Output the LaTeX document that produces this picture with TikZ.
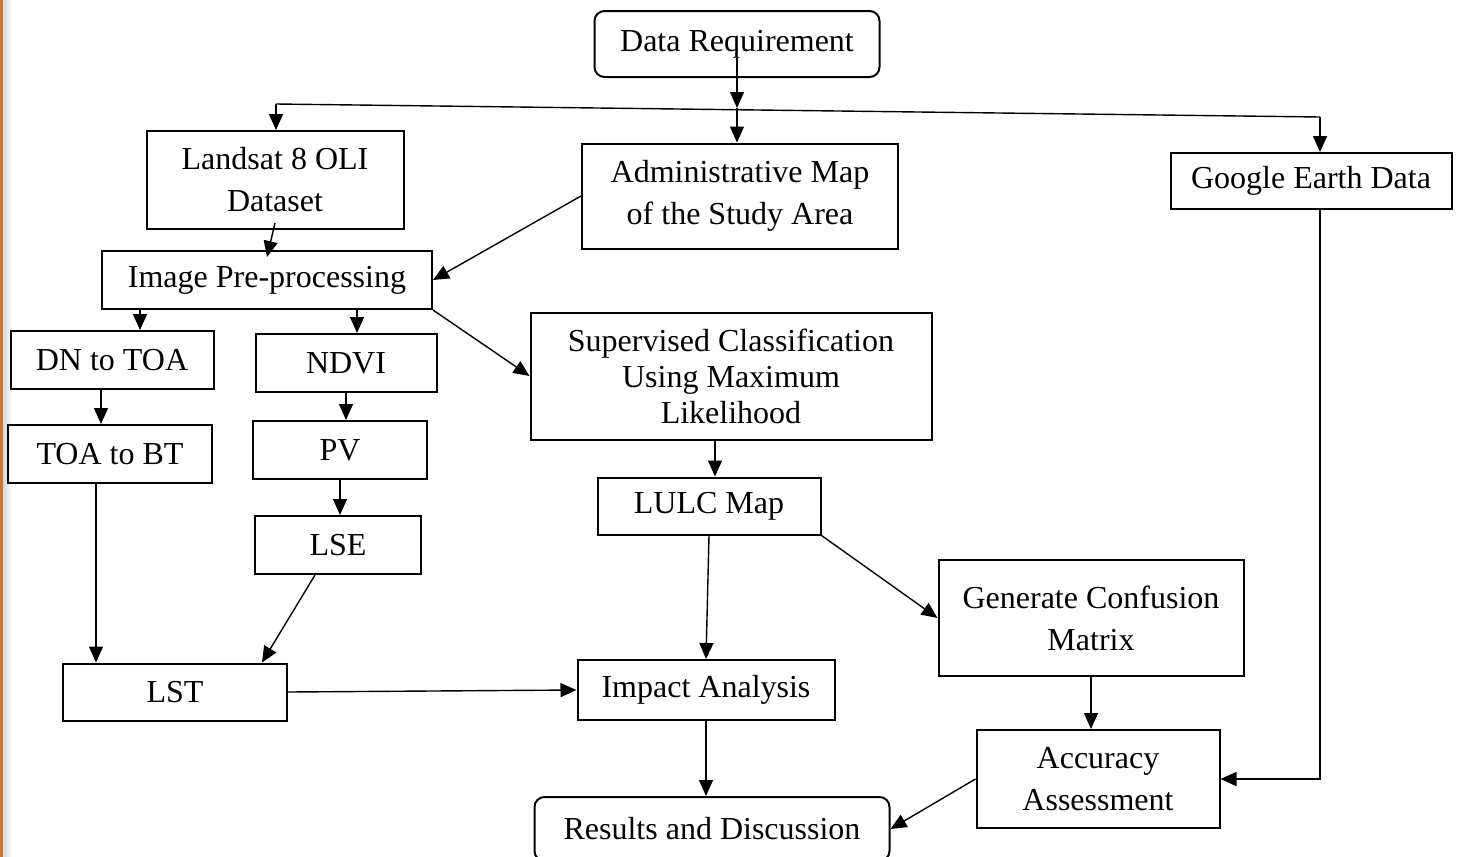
\documentclass[tikz,border=0pt]{standalone}
\usepackage{fontspec}
\setmainfont{Liberation Serif}
\usetikzlibrary{arrows.meta,calc,positioning}
\definecolor{pageedge}{RGB}{200,120,60}

\tikzset{
  box/.style={draw, line width=1pt, inner sep=0pt, align=center, font=\fontsize{16}{21}\selectfont},
  rbox/.style={box, rounded corners=5pt},
  flow/.style={-{Triangle[length=8pt,width=7pt]}, line width=0.7pt},
}

\begin{document}
\begin{tikzpicture}[x=0.5pt, y=-0.5pt]
  \useasboundingbox (0,0) rectangle (1457,857);
  \clip (0,0) rectangle (1457,857);
  \fill[white] (0,0) rectangle (1457,857);
  % page edge
  \fill[pageedge] (0,0) rectangle (3,857);
  \shade[left color=black!15, right color=white] (3,0) rectangle (12,857);

  % Data sources
  \node[rbox, minimum width=142.5pt, minimum height=33pt] (dreq) at (737,44) {Data Requirement};
  \node[box, minimum width=128.5pt, minimum height=49pt] (land) at (275,180) {Landsat 8 OLI\\Dataset};
  \node[box, minimum width=158pt, minimum height=52.5pt] (admin) at (740,196) {Administrative Map\\of the Study Area};
  \node[box, minimum width=140.5pt, minimum height=28pt] (ge) at (1311,181) {Google Earth Data};

  % Pre-processing
  \node[box, minimum width=165pt, minimum height=29pt] (pre) at (267,280) {Image Pre-processing};
  \node[box, minimum width=101.5pt, minimum height=29pt] (dn) at (112,360) {DN to TOA};
  \node[box, minimum width=90.5pt, minimum height=29pt] (ndvi) at (346,363) {NDVI};
  \node[box, minimum width=102pt, minimum height=29pt] (toabt) at (110,454) {TOA to BT};
  \node[box, minimum width=87pt, minimum height=29pt] (pv) at (340,450) {PV};
  \node[box, minimum width=83pt, minimum height=29pt] (lse) at (338,545) {LSE};
  \node[box, minimum width=112pt, minimum height=28.5pt] (lst) at (175,692) {LST};

  % Classification
  \node[box, minimum width=200.5pt, minimum height=63.5pt, font=\fontsize{16}{18}\selectfont] (sup) at (731,376) {Supervised Classification\\Using Maximum\\Likelihood};
  \node[box, minimum width=111.5pt, minimum height=28.5pt] (lulc) at (709,506) {LULC Map};
  \node[box, minimum width=152.5pt, minimum height=58pt] (conf) at (1091,618) {Generate Confusion\\Matrix};
  \node[box, minimum width=128.5pt, minimum height=30pt] (impact) at (706,690) {Impact Analysis};
  \node[box, minimum width=121.5pt, minimum height=49pt] (acc) at (1098,779) {Accuracy\\Assessment};
  \node[rbox, minimum width=177.5pt, minimum height=32pt] (res) at (712,829) {Results and Discussion};

  % Distribution line
  \coordinate (busl) at (276,104);
  \coordinate (busm) at (737,108);
  \coordinate (busr) at (1320,117);
  \draw[line width=0.7pt] (busl) -- (busr);
  \draw[flow] ($(dreq.center)!0.4!(dreq.south)$) -- (busm);
  \draw[flow] (busm) -- (busm |- admin.north);
  \draw[flow] (busl) -- (busl |- land.north);
  \draw[flow] (busr) -- (busr |- ge.north);

  % Arrows
  \draw[flow] ([yshift=3.5pt]land.south) -- ([yshift=-3.5pt]pre.north);
  \draw[flow] (admin.west) -- (pre.east);
  \draw[flow] ([xshift=14pt]dn.north |- pre.south) -- ([xshift=14pt]dn.north);
  \draw[flow] ([xshift=5.5pt]ndvi.north |- pre.south) -- ([xshift=5.5pt]ndvi.north);
  \draw[flow] (pre.south east) -- (sup.west);
  \draw[flow] ([xshift=-5.5pt]dn.south) -- ([xshift=-5.5pt]dn.south |- toabt.north);
  \draw[flow] (ndvi.south) -- (ndvi.south |- pv.north);
  \draw[flow] (pv.south) -- (pv.south |- lse.north);
  \draw[flow] ([xshift=-7pt]toabt.south) -- ([xshift=-7pt]toabt.south |- lst.north);
  \draw[flow] ([xshift=-11.5pt]lse.south) -- ([xshift=43.5pt]lst.north);
  \draw[flow] (lst.east) -- (impact.west);
  \draw[flow] ([xshift=-8pt]sup.south) -- ([xshift=-8pt]sup.south |- lulc.north);
  \draw[flow] (lulc.south) -- (impact.north);
  \draw[flow] (lulc.south east) -- (conf.west);
  \draw[flow] (conf.south) -- (conf.south |- acc.north);
  \draw[flow] (busr |- ge.south) |- (acc.east);
  \draw[flow] (impact.south) -- (impact.south |- res.north);
  \draw[flow] (acc.west) -- (res.east);
\end{tikzpicture}
\end{document}
